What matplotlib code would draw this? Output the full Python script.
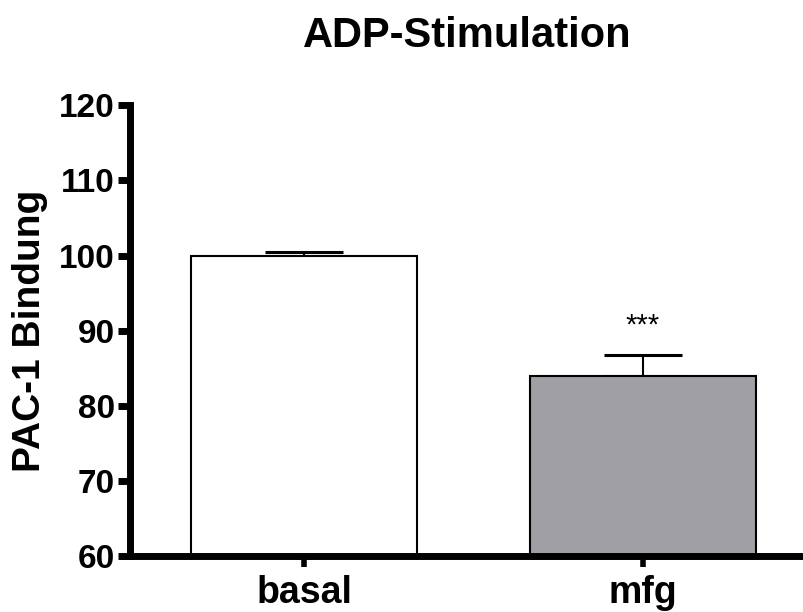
import matplotlib
matplotlib.use('Agg')
from matplotlib import pyplot as plt

# Data
categories = ['basal', 'mfg']
values = [100.0, 84.0]
errors = [0.5, 2.8]
colors = ['white', '#a09fa4']
stars = ['', '***']

plt.rcParams['font.family'] = ['Liberation Sans', 'DejaVu Sans']
plt.rcParams['font.weight'] = 'bold'

fig = plt.figure(figsize=(8.04, 6.12), dpi=100)
ax = fig.add_axes([0.162, 0.0915, 0.838, 0.7365])

x = list(range(len(categories)))
ax.bar(x, values, width=0.667, color=colors, edgecolor='black', linewidth=1.5, zorder=2)
ax.errorbar(x, values, yerr=[[0] * len(errors), errors], fmt='none', ecolor='black',
            elinewidth=1.5, capsize=28, capthick=2.2, zorder=1)

for xi, v, e, s in zip(x, values, errors, stars):
    if s:
        ax.text(xi, v + e + 2.0, s, ha='center', va='bottom', fontsize=21, fontweight='normal')

ax.set_ylim(60, 120)
ax.set_xlim(-0.513, 1.475)
ax.set_yticks(range(60, 121, 10))
ax.set_xticks(x)
ax.set_xticklabels(categories, fontsize=27, fontweight='bold')
ax.tick_params(axis='y', labelsize=24, width=5, length=9, direction='out', pad=2)
ax.tick_params(axis='x', width=4, length=8, direction='out', pad=6)
for lab in ax.get_yticklabels():
    lab.set_fontweight('bold')

for side in ['top', 'right']:
    ax.spines[side].set_visible(False)
for side in ['left', 'bottom']:
    ax.spines[side].set_linewidth(5)

ax.set_ylabel('PAC-1 Bindung', fontsize=28, fontweight='bold', labelpad=8)
ax.set_title('ADP-Stimulation', fontsize=30, fontweight='bold', pad=42)

fig.savefig('out.png', dpi=100)
